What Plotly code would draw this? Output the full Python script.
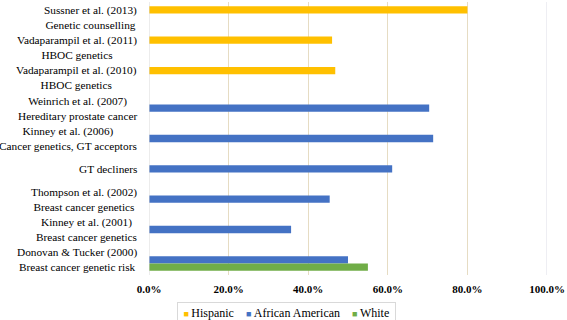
import plotly.graph_objects as go

categories = [
    "Sussner et al. (2013)<br>Genetic counselling",
    "Vadaparampil et al. (2011)<br>HBOC genetics",
    "Vadaparampil et al. (2010)<br>HBOC genetics",
    "Weinrich et al. (2007)<br>Hereditary prostate cancer",
    "Kinney et al. (2006)<br>Cancer genetics, GT acceptors",
    "GT decliners",
    "Thompson et al. (2002)<br>Breast cancer genetics",
    "Kinney et al. (2001)<br>Breast cancer genetics",
    "Donovan & Tucker (2000)<br>Breast cancer genetic risk",
]
hispanic = [0.80, 0.46, 0.468, None, None, None, None, None, None]
african_american = [None, None, None, 0.704, 0.714, 0.611, 0.454, 0.357, 0.50]
white = [None, None, None, None, None, None, None, None, 0.55]
tick_vals = [0, 0.2, 0.4, 0.6, 0.8, 1.0]

serif = "Liberation Serif"
series = [("Hispanic", hispanic, "#FFC000"),
          ("African American", african_american, "#4472C4"),
          ("White", white, "#70AD47")]

fig = go.Figure()
for name, vals, col in series:
    fig.add_trace(go.Bar(name=name, y=categories, x=vals, orientation="h",
                         marker=dict(color=col, line=dict(width=0))))

for c in categories:
    fig.add_annotation(x=0, xref="paper", y=c, yref="y", text=c, showarrow=False,
                       xanchor="right", align="center", xshift=-10,
                       font=dict(family=serif, size=11.3, color="black"))

legend_text = "\u2003".join(
    f"<span style='color:{col};font-size:9px'>■</span>\u2009{name}" for name, _, col in series)
fig.add_annotation(x=0.345, xref="paper", y=-0.1, yref="paper", yanchor="top",
                   xanchor="center", text="\u2009" + legend_text + "\u2009", showarrow=False,
                   bordercolor="#d9d9d9", borderwidth=1, borderpad=3,
                   font=dict(family=serif, size=12, color="black"))

fig.update_layout(
    width=567, height=320,
    margin=dict(l=149, r=17, t=2, b=45),
    paper_bgcolor="white", plot_bgcolor="white",
    barmode="group", bargap=0.28, bargroupgap=0,
    showlegend=False,
    xaxis=dict(range=[0, 1], tickvals=tick_vals, tickformat=".1%",
               showgrid=True, gridcolor="#e6dcc3", gridwidth=1,
               zeroline=False, showline=False, ticks="",
               ticklabeloverflow="allow", ticklabelstandoff=6,
               tickfont=dict(family=serif, size=11, color="black", weight="bold")),
    yaxis=dict(categoryorder="array", categoryarray=categories,
               range=[8.5, -0.5], showticklabels=False, showgrid=False,
               zeroline=False, showline=False, ticks=""),
)
fig.add_shape(type="line", xref="x", yref="paper", x0=0, x1=0, y0=0, y1=1,
              line=dict(color="#d9d9d9", width=1))
fig.add_shape(type="line", xref="x", yref="paper", x0=1, x1=1, y0=0, y1=1,
              line=dict(color="#dcdde6", width=1))

fig.write_html("out.html", config={"displayModeBar": False},
               post_script="document.body.style.margin='0';document.body.style.padding='0';")
